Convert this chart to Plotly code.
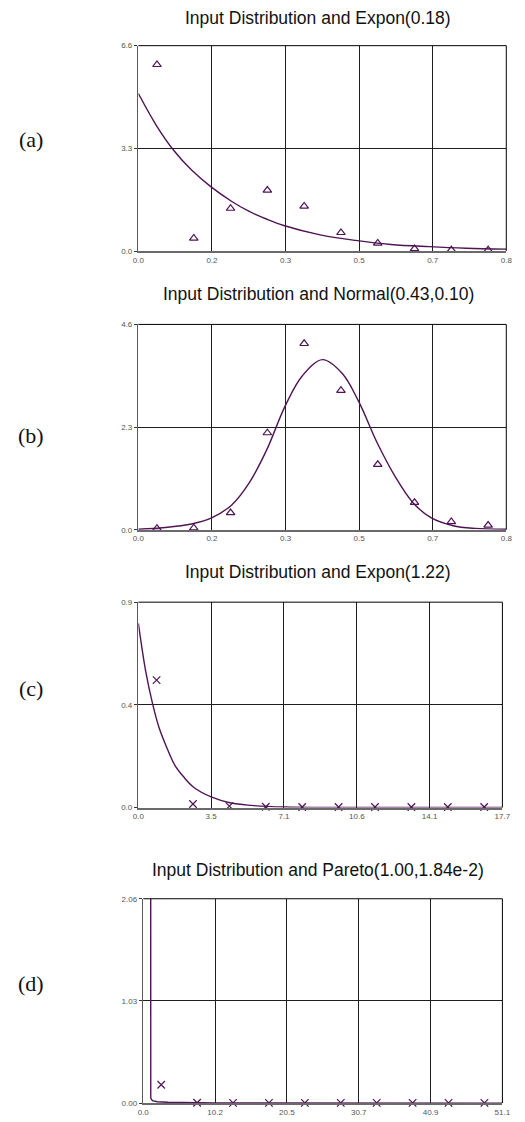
import numpy as np
import plotly.graph_objects as go

# ---------------- data ----------------
titles = ["Input Distribution and Expon(0.18)",
          "Input Distribution and Normal(0.43,0.10)",
          "Input Distribution and Expon(1.22)",
          "Input Distribution and Pareto(1.00,1.84e-2)"]
panel_labels = ["(a)", "(b)", "(c)", "(d)"]

# axis maxima and tick labels
a_xmax, a_ymax = 0.83, 6.6
b_xmax, b_ymax = 0.83, 4.6
c_xmax, c_ymax = 17.7, 0.87
d_xmax, d_ymax = 51.1, 2.06
a_xticks = ["0.0", "0.2", "0.3", "0.5", "0.7", "0.8"]
a_yticks = ["0.0", "3.3", "6.6"]
b_xticks = ["0.0", "0.2", "0.3", "0.5", "0.7", "0.8"]
b_yticks = ["0.0", "2.3", "4.6"]
c_xticks = ["0.0", "3.5", "7.1", "10.6", "14.1", "17.7"]
c_yticks = ["0.0", "0.4", "0.9"]
d_xticks = ["0.0", "10.2", "20.5", "30.7", "40.9", "51.1"]
d_yticks = ["0.00", "1.03", "2.06"]

# (a) histogram points and fitted curve
a_bin_x = [0.042, 0.125, 0.208, 0.291, 0.374, 0.457, 0.540, 0.623, 0.706, 0.789]
a_hist = [5.99, 0.41, 1.37, 1.95, 1.44, 0.59, 0.25, 0.07, 0.03, 0.03]
a_fit_x = [0.0, 0.04, 0.08, 0.12, 0.164, 0.21, 0.25, 0.29, 0.328, 0.41, 0.49, 0.57, 0.656, 0.74, 0.83]
a_fit_y = [5.06, 4.05, 3.23, 2.6, 2.06, 1.6, 1.27, 1.02, 0.82, 0.52, 0.34, 0.21, 0.14, 0.09, 0.06]

# (b)
b_bin_x = [0.042, 0.125, 0.208, 0.291, 0.374, 0.457, 0.540, 0.623, 0.706, 0.789]
b_hist = [0.03, 0.04, 0.38, 2.17, 4.17, 3.12, 1.46, 0.61, 0.18, 0.10]
b_fit_x = [0.0, 0.06, 0.12, 0.164, 0.21, 0.25, 0.29, 0.331, 0.37, 0.4157, 0.46, 0.4966, 0.54, 0.58, 0.62, 0.66, 0.71, 0.76, 0.83]
b_fit_y = [0.01, 0.05, 0.13, 0.26, 0.55, 1.05, 1.8, 2.77, 3.45, 3.81, 3.5, 2.88, 1.92, 1.18, 0.6, 0.27, 0.09, 0.03, 0.01]

# (c)
c_bin_x = [0.885, 2.655, 4.425, 6.195, 7.965, 9.735, 11.505, 13.275, 15.045, 16.815]
c_hist = [0.54, 0.015, 0.006, 0.003, 0.002, 0.002, 0.002, 0.002, 0.002, 0.002]
c_fit_x = [0.0, 0.35, 0.69, 1.0, 1.4, 1.77, 2.2, 2.7, 3.54, 4.5, 5.5, 7.08, 10.0, 17.7]
c_fit_y = [0.78, 0.58, 0.44, 0.34, 0.25, 0.18, 0.13, 0.085, 0.045, 0.019, 0.009, 0.002, 0.0, 0.0]

# (d)
d_bin_x = [2.555, 7.665, 12.775, 17.885, 22.995, 28.105, 33.215, 38.325, 43.435, 48.545]
d_hist = [0.185, 0.004, 0.003, 0.002, 0.002, 0.002, 0.002, 0.002, 0.002, 0.002]
d_fit_x = [1.05, 1.07, 1.3, 2.0, 3.5, 6.0, 10.0, 51.1]
d_fit_y = [6.0, 0.05, 0.025, 0.014, 0.008, 0.004, 0.002, 0.0]

# ---------------- style / layout ----------------
PURPLE = "#4e1454"
W, H = 525, 1122
# plot boxes in pixels: (left, right, top, bottom)
boxes = [(136, 514, 42, 249), (136, 514, 323, 530), (136, 510, 603, 810), (141, 510, 902, 1108)]
title_y = [14, 292, 573, 873]
label_y = [137, 435, 690, 987]

panels = [
    (a_xmax, a_ymax, a_xticks, a_yticks, a_bin_x, a_hist, a_fit_x, a_fit_y, "triangle-up-open", "spline"),
    (b_xmax, b_ymax, b_xticks, b_yticks, b_bin_x, b_hist, b_fit_x, b_fit_y, "triangle-up-open", "spline"),
    (c_xmax, c_ymax, c_xticks, c_yticks, c_bin_x, c_hist, c_fit_x, c_fit_y, "x-thin-open", "spline"),
    (d_xmax, d_ymax, d_xticks, d_yticks, d_bin_x, d_hist, d_fit_x, d_fit_y, "x-thin-open", "linear"),
]

fig = go.Figure()
layout = dict(width=W, height=H, margin=dict(l=0, r=0, t=0, b=0),
              paper_bgcolor="white", plot_bgcolor="white", showlegend=False,
              font=dict(family="Liberation Sans, Arial, sans-serif", color="#555"))
shapes, annotations = [], []

for i, (xmax, ymax, xt, yt, bx, bh, fx, fy, sym, shape) in enumerate(panels):
    n = "" if i == 0 else str(i + 1)
    xa, ya = "x" + n, "y" + n
    l, r, t, b = boxes[i]
    layout["xaxis" + n] = dict(
        domain=[l / W, r / W], range=[0, xmax], anchor=ya,
        tickvals=list(np.linspace(0, xmax, 6)), ticktext=xt,
        showgrid=True, gridcolor="#1e1e1e", gridwidth=1, zeroline=False,
        showline=True, linecolor="#6a6a6a", linewidth=2, ticks="",
        ticklabelstandoff=0,
        tickfont=dict(size=8, color="#555"), fixedrange=True)
    layout["yaxis" + n] = dict(
        domain=[1 - b / H, 1 - t / H], range=[0, ymax], anchor=xa,
        tickvals=list(np.linspace(0, ymax, 3)), ticktext=yt,
        showgrid=True, gridcolor="#1e1e1e", gridwidth=1, zeroline=False,
        showline=True, linecolor="#5a5a5a", linewidth=1.5,
        ticks="outside", ticklen=3, tickcolor="#333", tickwidth=1,
        ticklabelstandoff=0,
        tickfont=dict(size=8, color="#555"), fixedrange=True)
    # top and right border
    shapes.append(dict(type="line", xref=xa + " domain", yref=ya + " domain",
                       x0=0, x1=1, y0=1, y1=1, line=dict(color="black", width=1), layer="above"))
    shapes.append(dict(type="line", xref=xa + " domain", yref=ya + " domain",
                       x0=1, x1=1, y0=0, y1=1, line=dict(color="black", width=1), layer="above"))

    fig.add_trace(go.Scatter(x=fx, y=fy, mode="lines", line=dict(color=PURPLE, width=1.4, shape=shape),
                             xaxis=xa, yaxis=ya, cliponaxis=True, hoverinfo="skip"))
    fig.add_trace(go.Scatter(x=bx, y=bh, mode="markers",
                             marker=dict(symbol=sym, size=7.5, color=PURPLE,
                                         line=dict(color=PURPLE, width=1.2)),
                             xaxis=xa, yaxis=ya, cliponaxis=False, hoverinfo="skip"))

    annotations.append(dict(text=titles[i], xref="paper", yref="paper", x=321 / W, y=1 - title_y[i] / H,
                            xanchor="center", yanchor="middle", showarrow=False,
                            font=dict(family="Liberation Sans, Arial, sans-serif", size=17.5, color="#111")))
    annotations.append(dict(text=panel_labels[i], xref="paper", yref="paper", x=26 / W, y=1 - label_y[i] / H,
                            xanchor="center", yanchor="middle", showarrow=False,
                            font=dict(family="Liberation Serif, Times New Roman, serif", size=22, color="#111")))

layout["shapes"] = shapes
layout["annotations"] = annotations
fig.update_layout(**layout)
fig.write_html("out.html", config={"displayModeBar": False, "staticPlot": True},
               post_script="document.body.style.margin='0';document.body.style.overflow='hidden';")
